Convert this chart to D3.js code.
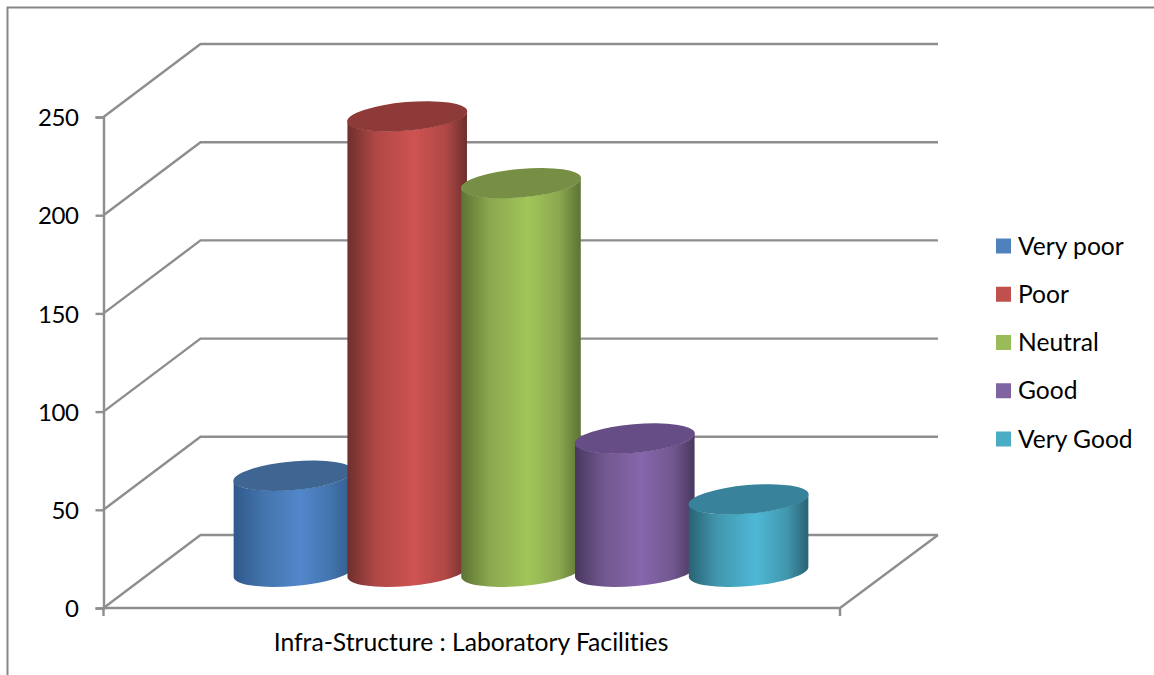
<!DOCTYPE html>
<html><head><meta charset="utf-8">
<script src="https://cdn.jsdelivr.net/npm/d3@7"></script>
<style>html,body{margin:0;padding:0;background:#fff}svg{display:block}text{font-family:Lato,"Open Sans",sans-serif;fill:#000;font-variant-ligatures:none}</style>
</head><body><svg id="c" width="1154" height="675"></svg>
<script>
const categories = ["Very poor","Poor","Neutral","Good","Very Good"];
const values = [49, 232, 198, 68, 37];
const yTicks = [0,50,100,150,200,250];
const axisLabel = "Infra-Structure : Laboratory Facilities";
const legendColors = ["#4f81bd","#c0504d","#9bbb59","#8064a2","#4bacc6"];
const midColors = ["#5287cb","#ce5351","#a2c55a","#8766ac","#4fb8d6"];
const edgeColors = ["#30598c","#6e2f2d","#5d7334","#49375f","#2a6275"];
const sideColors = ["#4273ab","#b04846","#8aa84f","#71578f","#4197ae"];
const topColors = ["#3f6592","#8d3a38","#778f45","#664d85","#38839b"];

const svg = d3.select("#c");
const grid = "#8e8e8e";
const y = d3.scaleLinear().domain([0,250]).range([608,117]);
const x = d3.scaleBand().domain(categories).range([236.5,805.5]);
const dx = 97, dy = -73, right = 840, left = 103.5;
const baseY = 572 - 608;
const rx = 60, ry = 14, tilt = -5, vx = rx*Math.cos(tilt*Math.PI/180), vy = rx*Math.sin(tilt*Math.PI/180);

svg.append("path").attr("d","M7.5,675V7.5H1154").attr("fill","none").attr("stroke","#868686").attr("stroke-width",2);

const defs = svg.append("defs");
categories.forEach((c,i)=>{
  const g = defs.append("linearGradient").attr("id","g"+i).attr("x1",0).attr("x2",1).attr("y1",0).attr("y2",0);
  [[0,edgeColors[i]],[.24,sideColors[i]],[.56,midColors[i]],[.82,sideColors[i]],[1,edgeColors[i]]]
    .forEach(s=>g.append("stop").attr("offset",s[0]).attr("stop-color",s[1]));
});

const walls = svg.append("g").attr("fill","none").attr("stroke",grid).attr("stroke-width",2.4);
yTicks.forEach(t=>{
  walls.append("path").attr("d",`M${left},${y(t)}L${left+dx},${y(t)+dy}H938`);
});
walls.append("path").attr("d",`M${left},${y(0)}H${right}L938,${y(0)+dy}`);
walls.append("path").attr("d",`M${left},${y(0)+.5}V616M${right},${y(0)}V616`);

const ax = svg.append("g").attr("transform",`translate(${left},0)`)
  .call(d3.axisLeft(y).tickValues(yTicks).tickSize(8).tickPadding(17));
ax.selectAll("path,line").attr("stroke",grid).attr("stroke-width",2.4);
ax.selectAll("text").attr("font-size",24).attr("letter-spacing",-0.45).attr("dy","0.36em").attr("fill","#000").style("font-family",'Lato,sans-serif');

const bars = svg.selectAll("g.bar").data(categories).join("g").attr("class","bar");
bars.each(function(c,i){
  const cx = x(c)+x.bandwidth()/2, cyBot = y(0)+baseY, cyTop = y(values[i])+baseY;
  const sel = d3.select(this);
  sel.append("path")
    .attr("d",`M${cx-vx},${cyTop-vy}L${cx-vx},${cyBot-vy}A${rx},${ry} ${tilt} 0 0 ${cx+vx},${cyBot+vy}L${cx+vx},${cyTop+vy}A${rx},${ry} ${tilt} 0 1 ${cx-vx},${cyTop-vy}Z`)
    .attr("fill",`url(#g${i})`);
  sel.append("ellipse").attr("cx",cx).attr("cy",cyTop).attr("rx",rx+0.3).attr("ry",ry+0.3)
    .attr("transform",`rotate(${tilt} ${cx} ${cyTop})`).attr("fill",topColors[i]);
});

svg.append("text").attr("x",471).attr("y",651).attr("text-anchor","middle").attr("font-size",24.7).text(axisLabel);

const ly = d3.scalePoint().domain(categories).range([246,439]);
const leg = svg.selectAll("g.leg").data(categories).join("g").attr("class","leg");
leg.append("rect").attr("x",996).attr("y",c=>ly(c)-7.5).attr("width",15).attr("height",15).attr("fill",(c,i)=>legendColors[i]);
leg.append("text").attr("x",1018).attr("y",c=>ly(c)+8.7).attr("font-size",24.6).text(c=>c);
</script></body></html>
